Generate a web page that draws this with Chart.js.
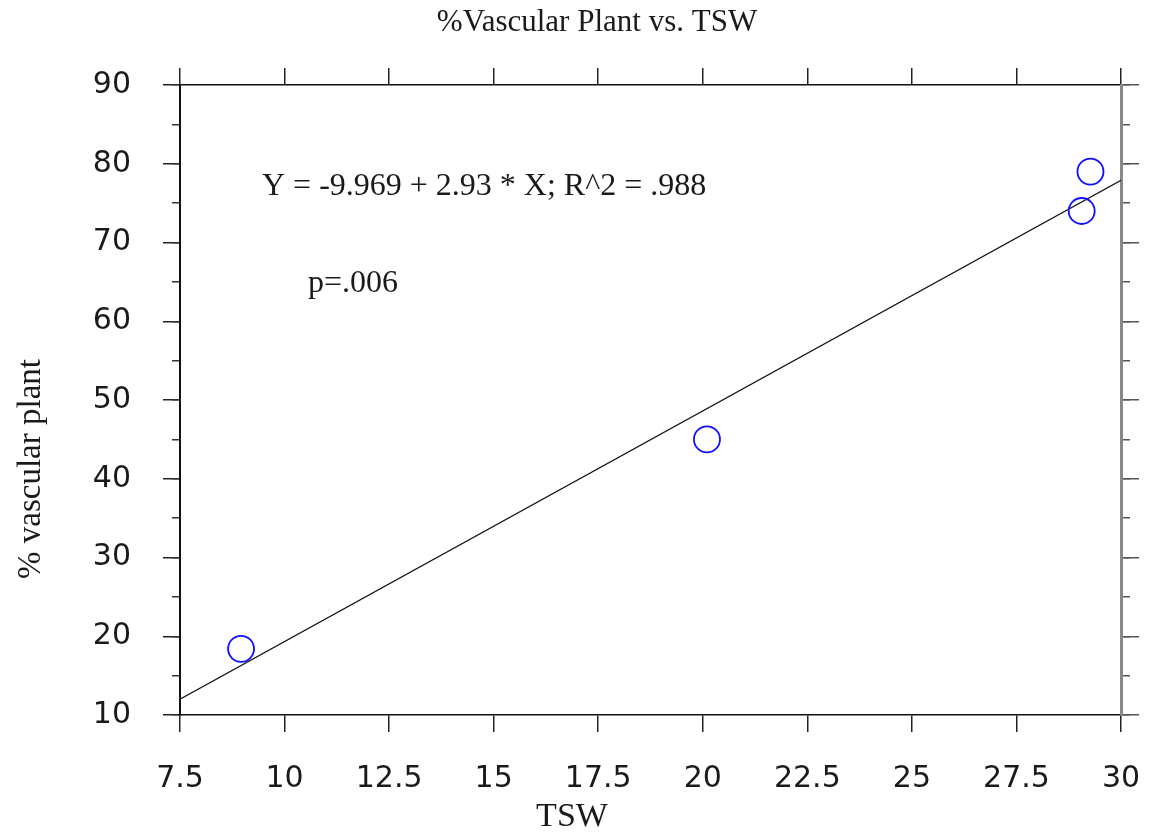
<!DOCTYPE html>
<html><head><meta charset="utf-8">
<script src="https://cdn.jsdelivr.net/npm/chart.js@4.4.1/dist/chart.umd.min.js"></script>
<style>html,body{margin:0;padding:0;background:#fff}#wrap{width:1150px;height:837px;position:relative}</style>
</head><body><div id="wrap"><canvas id="c"></canvas></div>
<script>
const tswValues = [8.96, 20.1, 29.06, 29.27];
const vascularValues = [18.4, 45.0, 74.0, 79.0];
const fitLineX = [7.5, 30];
const fitLineY = [12.0, 77.9];
const titleText = '%Vascular Plant vs. TSW';
const xTitleText = 'TSW';
const yTitleText = '% vascular plant';
const equationText = 'Y = -9.969 + 2.93 * X; R^2 = .988';
const pValueText = 'p=.006';
const equationAt = [9.46, 76.0];
const pValueAt = [10.56, 63.7];
const xRange = [7.5, 30];
const xStep = 2.5;
const yRange = [10, 90];
const yMajorStep = 10;
const yMinorStep = 5;

const tickFont = {family: '"DejaVu Sans", sans-serif', size: 30};
const serif = '"Liberation Serif", "Times New Roman", serif';

const textPlugin = {
  id: 'texts',
  afterDraw(chart) {
    const ctx = chart.ctx, xs = chart.scales.x, ys = chart.scales.y;
    ctx.save();
    ctx.fillStyle = '#1a1a1a';
    ctx.textBaseline = 'alphabetic';
    ctx.textAlign = 'center';
    ctx.font = '31px ' + serif;
    ctx.fillText(titleText, 597, 31);
    ctx.font = '34px ' + serif;
    ctx.fillText(xTitleText, 572, 826);
    ctx.save();
    ctx.font = '33px ' + serif;
    ctx.translate(40, 469);
    ctx.rotate(-Math.PI / 2);
    ctx.fillText(yTitleText, 0, 0);
    ctx.restore();
    ctx.font = '32px ' + serif;
    ctx.textAlign = 'left';
    ctx.fillText(equationText, xs.getPixelForValue(equationAt[0]), ys.getPixelForValue(equationAt[1]));
    ctx.fillText(pValueText, xs.getPixelForValue(pValueAt[0]), ys.getPixelForValue(pValueAt[1]));
    ctx.restore();
  }
};

const gridBase = {drawOnChartArea: false, color: '#222', lineWidth: 1.5};
function noSidePad(s) { s.paddingLeft = 0; s.paddingRight = 0; }

new Chart(document.getElementById('c'), {
  type: 'scatter',
  data: {
    datasets: [
      {
        type: 'scatter',
        data: tswValues.map((v, i) => ({x: v, y: vascularValues[i]})),
        pointRadius: 13, pointHoverRadius: 13,
        borderColor: '#1010ff', borderWidth: 1.8,
        backgroundColor: 'rgba(0,0,0,0)',
        xAxisID: 'x', yAxisID: 'y'
      },
      {
        type: 'line',
        data: fitLineX.map((v, i) => ({x: v, y: fitLineY[i]})),
        borderColor: '#111', borderWidth: 1.2, pointRadius: 0, fill: false,
        xAxisID: 'x', yAxisID: 'y'
      }
    ]
  },
  options: {
    responsive: true, maintainAspectRatio: false, animation: false,
    layout: {padding: 0},
    plugins: {legend: {display: false}, tooltip: {enabled: false}, title: {display: false}},
    scales: {
      x: {
        type: 'linear', axis: 'x', position: 'bottom', min: xRange[0], max: xRange[1],
        ticks: {stepSize: xStep, autoSkip: false, maxRotation: 0, padding: 29, color: '#1a1a1a', font: tickFont},
        grid: Object.assign({}, gridBase, {tickLength: 17}),
        border: {color: '#111', width: 1.5},
        afterFit(s) { s.height = 122; noSidePad(s); }
      },
      xTop: {
        type: 'linear', axis: 'x', position: 'top', min: xRange[0], max: xRange[1],
        ticks: {stepSize: xStep, display: false},
        grid: Object.assign({}, gridBase, {tickLength: 17}),
        border: {color: '#111', width: 1.5},
        afterFit(s) { s.height = 85; noSidePad(s); }
      },
      y: {
        type: 'linear', axis: 'y', position: 'left', weight: 10, min: yRange[0], max: yRange[1],
        ticks: {stepSize: yMajorStep, padding: 32, color: '#1a1a1a', font: tickFont},
        grid: Object.assign({}, gridBase, {tickLength: 17}),
        border: {color: '#111', width: 2},
        afterFit(s) { s.width = 180; }
      },
      yMinor: {
        type: 'linear', axis: 'y', position: 'left', weight: 0, min: yRange[0], max: yRange[1],
        ticks: {stepSize: yMinorStep, display: false},
        grid: Object.assign({}, gridBase, {tickLength: 8, color: '#333'}),
        border: {display: false},
        afterFit(s) { s.width = 0; }
      },
      yRight: {
        type: 'linear', axis: 'y', position: 'right', weight: 10, min: yRange[0], max: yRange[1],
        ticks: {stepSize: yMajorStep, display: false},
        grid: Object.assign({}, gridBase, {tickLength: 18, color: '#555'}),
        border: {color: '#888', width: 3},
        afterFit(s) { s.width = 29; }
      },
      yRightMinor: {
        type: 'linear', axis: 'y', position: 'right', weight: 0, min: yRange[0], max: yRange[1],
        ticks: {stepSize: yMinorStep, display: false},
        grid: Object.assign({}, gridBase, {tickLength: 9, color: '#555'}),
        border: {display: false},
        afterFit(s) { s.width = 0; }
      }
    }
  },
  plugins: [textPlugin]
});
</script></body></html>
